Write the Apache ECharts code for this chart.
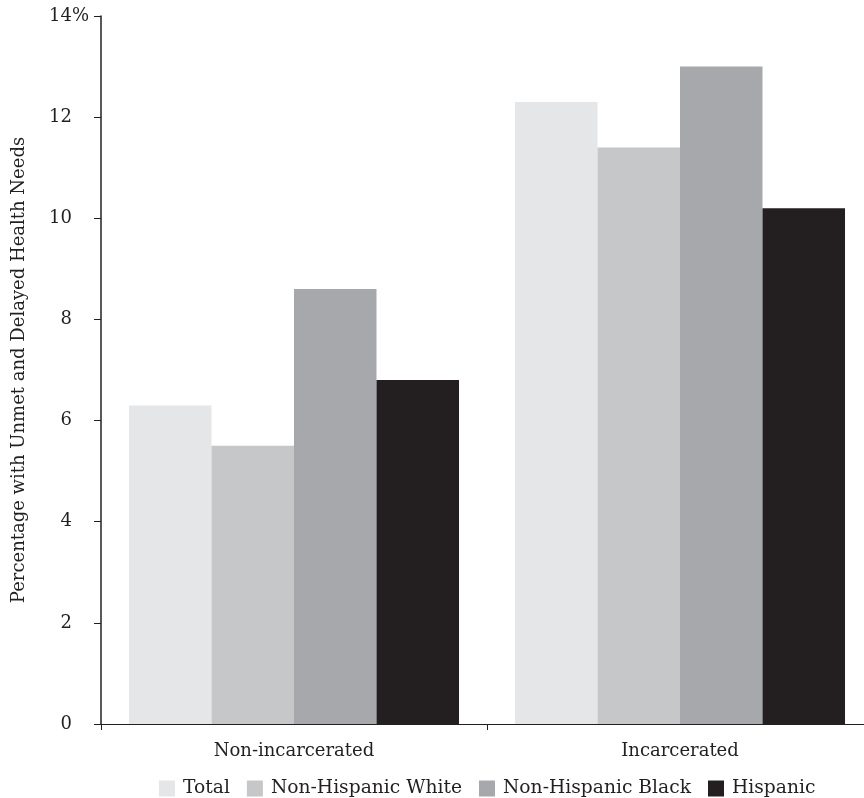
<!DOCTYPE html>
<html>
<head>
<meta charset="utf-8">
<script src="https://cdn.jsdelivr.net/npm/echarts@6/dist/echarts.min.js"></script>
<style>html,body{margin:0;padding:0;background:#fff;}#c{width:864px;height:798px;}</style>
</head>
<body>
<div id="c"></div>
<script>
const categories = ['Non-incarcerated', 'Incarcerated'];
const seriesNames = ['Total', 'Non-Hispanic White', 'Non-Hispanic Black', 'Hispanic'];
const totalVals = [6.3, 12.3];
const whiteVals = [5.5, 11.4];
const blackVals = [8.6, 13.0];
const hispanicVals = [6.8, 10.2];
const yTicks = [0, 2, 4, 6, 8, 10, 12, 14];
const yAxisTitle = 'Percentage with Unmet and Delayed Health Needs';

const colors = ['#e5e6e8', '#c6c7c9', '#a7a8ac', '#231f20'];
const seriesData = [totalVals, whiteVals, blackVals, hispanicVals];
const font = 'DejaVu Serif';

const chart = echarts.init(document.getElementById('c'), null, {renderer: 'canvas'});
chart.setOption({
  animation: false,
  backgroundColor: '#ffffff',
  textStyle: {fontFamily: font, color: '#231f20'},
  grid: {left: 101, right: -9, top: 16, bottom: 74, containLabel: false, outerBoundsMode: 'none'},
  legend: {
    bottom: -5,
    left: 154,
    itemWidth: 16,
    itemHeight: 16,
    itemGap: 17,
    icon: 'rect',
    textStyle: {fontFamily: font, fontSize: 18.7, color: '#231f20', padding: [0, 0, 0, 3]},
    data: seriesNames
  },
  xAxis: {
    type: 'category',
    data: categories,
    axisLine: {lineStyle: {color: '#231f20', width: 1.2}},
    axisTick: {show: true, length: 6, lineStyle: {color: '#231f20'}},
    axisLabel: {fontFamily: font, fontSize: 18, color: '#231f20', margin: 18}
  },
  yAxis: {
    type: 'value',
    min: yTicks[0],
    max: yTicks[yTicks.length - 1],
    interval: 2,
    splitLine: {show: false},
    axisLine: {show: true, lineStyle: {color: '#231f20', width: 1.5}},
    axisTick: {show: true, length: 7, lineStyle: {color: '#231f20'}},
    axisLabel: {
      fontFamily: font, fontSize: 18, color: '#231f20', margin: 29,
      formatter: v => v === 14 ? '{t|14%}' : String(v),
      rich: {t: {fontFamily: font, fontSize: 18, color: '#231f20', padding: [0, -17, 0, 0]}}
    },
    name: yAxisTitle,
    nameLocation: 'middle',
    nameRotate: 90,
    nameGap: 73,
    nameTextStyle: {fontFamily: font, fontSize: 18, color: '#231f20'}
  },
  series: seriesNames.map((n, i) => ({
    name: n,
    type: 'bar',
    data: seriesData[i],
    barGap: '0%',
    barCategoryGap: '14.5%',
    itemStyle: {color: colors[i]}
  }))
});
</script>
</body>
</html>
